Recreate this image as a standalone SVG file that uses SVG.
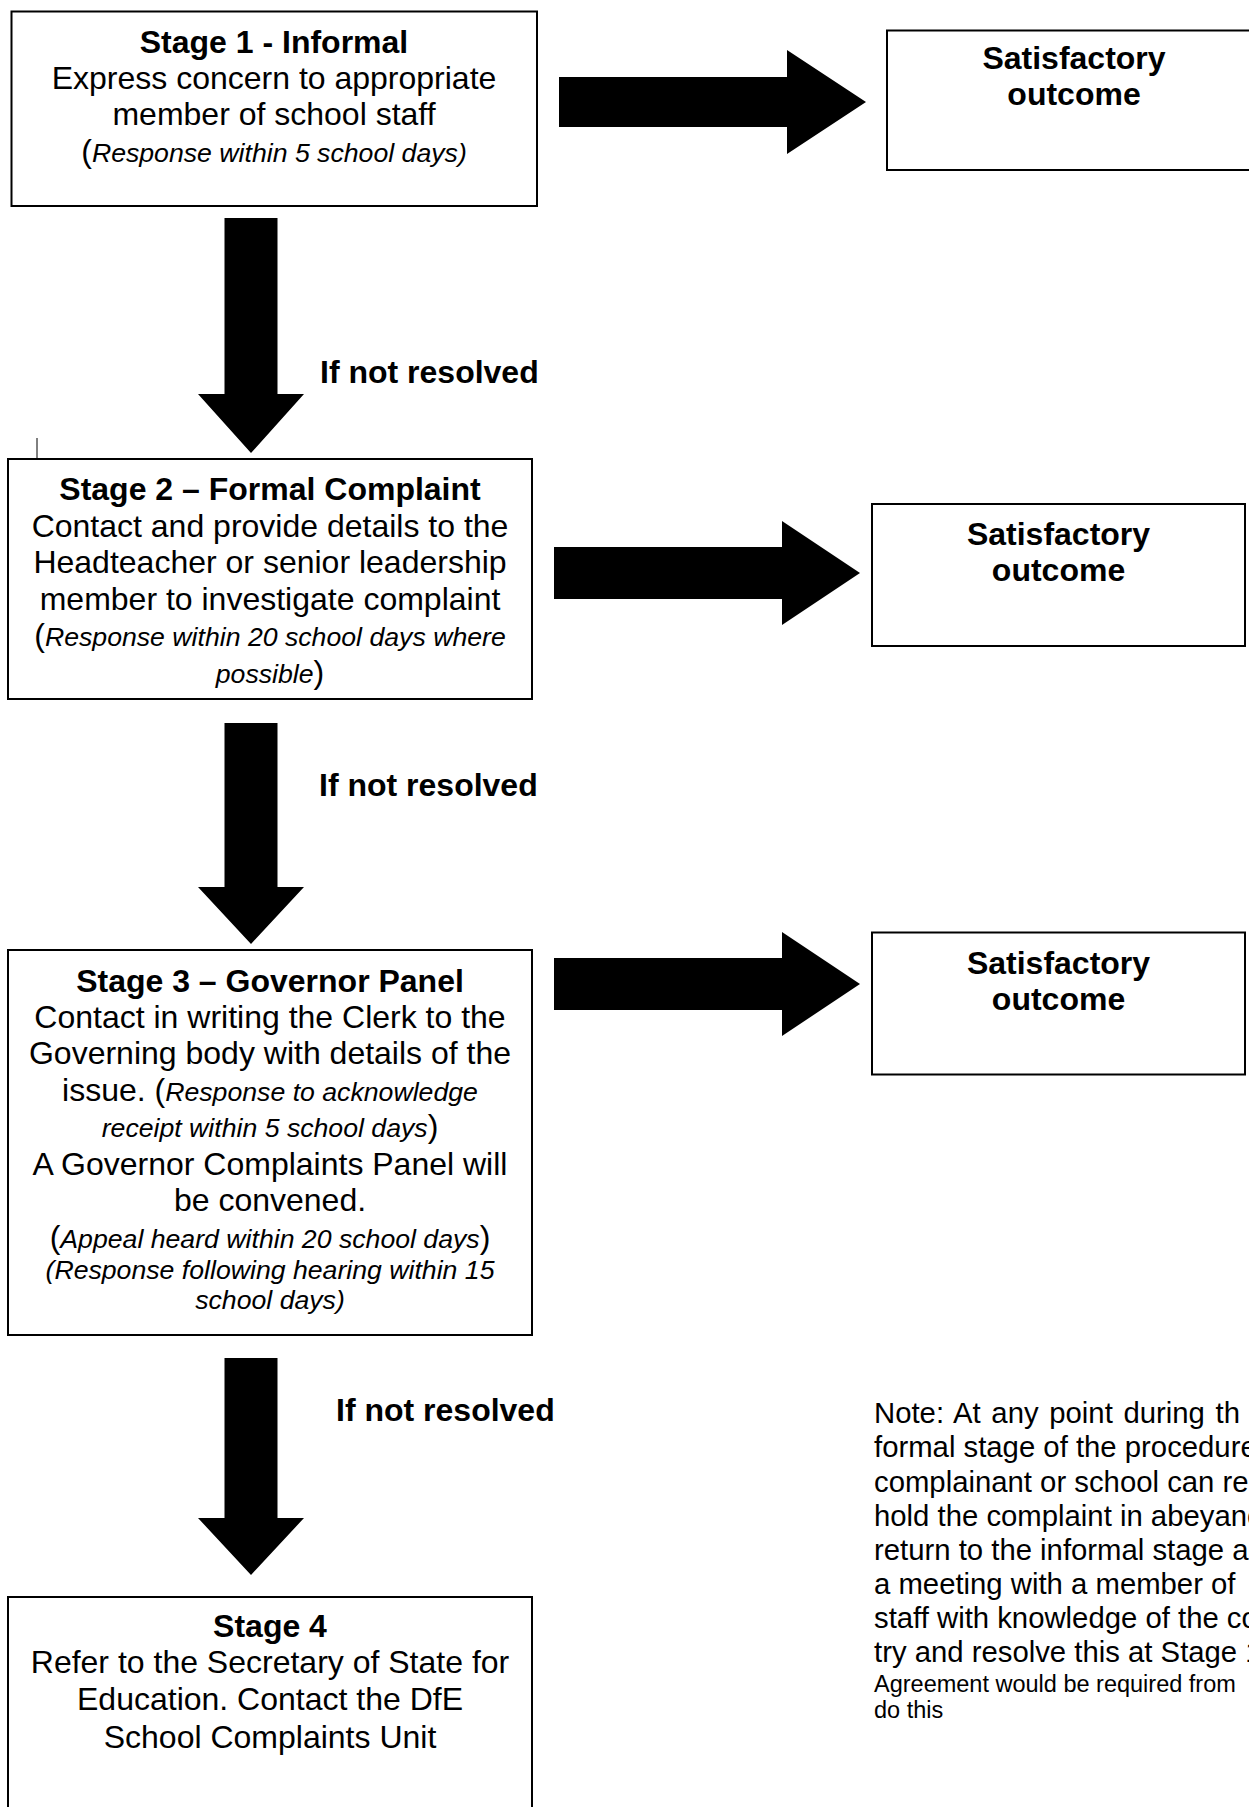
<svg xmlns="http://www.w3.org/2000/svg" width="1249" height="1807" viewBox="0 0 1249 1807">
<style>
.box{fill:#fff;stroke:#000;stroke-width:2}
.arr{fill:#000}
text{font-family:"Liberation Sans",Arial,sans-serif;fill:#000}
.t{font-size:32px;text-anchor:middle}
.b{font-weight:bold}
.it{font-style:italic;font-size:26.67px}
.lbl{font-size:32px;font-weight:bold}
.note{font-size:29.3px}
.small{font-size:23.5px}
</style>
<rect width="1249" height="1807" fill="#fff"/>
<g id="connectors">
<path class="arr" d="M224.5 218H277.5V394H304L251 453L198 394H224.5Z"/>
<path class="arr" d="M224.5 723H277.5V887H304L251 944L198 887H224.5Z"/>
<path class="arr" d="M224.5 1358H277.5V1518H304L251 1575L198 1518H224.5Z"/>
<path class="arr" d="M559 77H787V50L866 102L787 154V127H559Z"/>
<path class="arr" d="M554 547H782V521L860 573L782 625V599H554Z"/>
<path class="arr" d="M554 958H782V932L860 984L782 1036V1010H554Z"/>
<text class="lbl" x="320" y="383">If not resolved</text>
<text class="lbl" x="319" y="796">If not resolved</text>
<text class="lbl" x="336" y="1421">If not resolved</text>
</g>
<line x1="37" y1="438" x2="37" y2="459" stroke="#000" stroke-width="1"/>
<g id="stage1">
<rect class="box" x="11.5" y="11.5" width="525.5" height="194.5"/>
<text class="t" x="274" y="53"><tspan class="b">Stage 1 - Informal</tspan><tspan x="274" y="89">Express concern to appropriate</tspan><tspan x="274" y="125">member of school staff</tspan><tspan x="274" y="162">(<tspan class="it">Response within 5 school days)</tspan></tspan></text>
</g>
<g id="outcome1">
<rect class="box" x="887" y="30.5" width="380" height="139.5"/>
<text class="t b" x="1074" y="69">Satisfactory<tspan x="1074" y="105">outcome</tspan></text>
</g>
<g id="stage2">
<rect class="box" x="8" y="459" width="524" height="240"/>
<text class="t" x="270" y="500"><tspan class="b">Stage 2 – Formal Complaint</tspan><tspan x="270" y="537">Contact and provide details to the</tspan><tspan x="270" y="573">Headteacher or senior leadership</tspan><tspan x="270" y="610">member to investigate complaint</tspan><tspan x="270" y="646">(<tspan class="it">Response within 20 school days where</tspan></tspan><tspan x="270" y="683"><tspan class="it">possible</tspan>)</tspan></text>
</g>
<g id="outcome2">
<rect class="box" x="872" y="504" width="373" height="142"/>
<text class="t b" x="1058.5" y="545">Satisfactory<tspan x="1058.5" y="581">outcome</tspan></text>
</g>
<g id="stage3">
<rect class="box" x="8" y="950" width="524" height="385"/>
<text class="t" x="270" y="992"><tspan class="b">Stage 3 – Governor Panel</tspan><tspan x="270" y="1028">Contact in writing the Clerk to the</tspan><tspan x="270" y="1064">Governing body with details of the</tspan><tspan x="270" y="1101">issue. (<tspan class="it">Response to acknowledge</tspan></tspan><tspan x="270" y="1137"><tspan class="it">receipt within 5 school days</tspan>)</tspan><tspan x="270" y="1175">A Governor Complaints Panel will</tspan><tspan x="270" y="1211">be convened.</tspan><tspan x="270" y="1248">(<tspan class="it">Appeal heard within 20 school days</tspan>)</tspan><tspan class="it" x="270" y="1279">(Response following hearing within 15</tspan><tspan class="it" x="270" y="1309">school days)</tspan></text>
</g>
<g id="outcome3">
<rect class="box" x="872" y="932.5" width="373" height="142"/>
<text class="t b" x="1058.5" y="974">Satisfactory<tspan x="1058.5" y="1010">outcome</tspan></text>
</g>
<g id="stage4">
<rect class="box" x="8" y="1597" width="524" height="240"/>
<text class="t" x="270" y="1637"><tspan class="b">Stage 4</tspan><tspan x="270" y="1673">Refer to the Secretary of State for</tspan><tspan x="270" y="1710">Education. Contact the DfE</tspan><tspan x="270" y="1748">School Complaints Unit</tspan></text>
</g>
<g id="note">
<text class="note" x="874" y="1423"><tspan word-spacing="2.5">Note: At any point during th</tspan><tspan x="874" y="1457">formal stage of the procedure</tspan><tspan x="874" y="1491.5">complainant or school can re</tspan><tspan x="874" y="1526">hold the complaint in abeyanc</tspan><tspan x="874" y="1560">return to the informal stage a</tspan><tspan x="874" y="1594">a meeting with a member of</tspan><tspan x="874" y="1628">staff with knowledge of the co</tspan><tspan x="874" y="1662">try and resolve this at Stage 1</tspan></text>
<text class="small" x="874" y="1692">Agreement would be required from<tspan x="874" y="1718">do this</tspan></text>
</g>
</svg>
